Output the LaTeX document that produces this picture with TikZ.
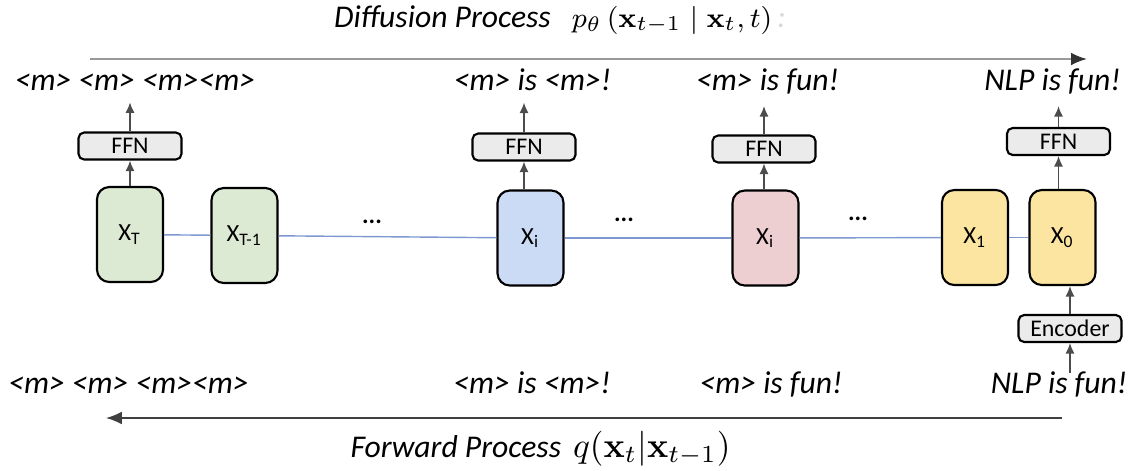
\documentclass[tikz,border=0pt]{standalone}
\usepackage{amsmath}
\usepackage[no-math]{fontspec}
\setmainfont{Carlito}
\usepackage{xcolor}
\usetikzlibrary{arrows.meta}

\definecolor{boxgreen}{RGB}{221,234,211}
\definecolor{boxblue}{RGB}{204,219,245}
\definecolor{boxpink}{RGB}{237,206,209}
\definecolor{boxyellow}{RGB}{251,229,161}
\definecolor{ffngray}{RGB}{235,235,235}
\definecolor{linkblue}{RGB}{125,152,208}

\tikzset{
  xbox/.style={draw, semithick, rounded corners=3.5pt, minimum width=0.66cm,
    minimum height=0.95cm, inner sep=0pt, font=\fontsize{7}{8}\selectfont},
  ffnbox/.style={draw, semithick, rounded corners=1.6pt, fill=ffngray,
    minimum width=1.03cm, minimum height=0.27cm, inner sep=0pt,
    font=\fontsize{6.8}{7}\selectfont},
  sentence/.style={anchor=base, font=\fontsize{9}{11}\selectfont\itshape},
  gap/.style={font=\fontsize{7}{8}\selectfont\bfseries},
  flow/.style={-{Latex[length=3pt,width=2.6pt]}, thin, black!70},
  link/.style={thin, linkblue},
}

\begin{document}
\begin{tikzpicture}[x=1cm, y=-1cm]
        \useasboundingbox (0,0) rectangle (11.44,4.70);
        % chain of states
        \node[xbox, fill=boxgreen] (T) at (1.30,2.345) {X\textsubscript{T}};
        \node[xbox, fill=boxgreen] (Tm) at (2.445,2.355) {X\textsubscript{T-1}};
        \node[xbox, fill=boxblue] (Ib) at (5.305,2.38) {X\textsubscript{i}};
        \node[xbox, fill=boxpink] (Ip) at (7.655,2.38) {X\textsubscript{i}};
        \node[xbox, fill=boxyellow] (One) at (9.75,2.375) {X\textsubscript{1}};
        \node[xbox, fill=boxyellow] (Zero) at (10.625,2.375) {X\textsubscript{0}};
        \node[gap] (GA) at (3.72,2.22) {...};
        \node[gap] (GB) at (6.24,2.20) {...};
        \node[gap] (GC) at (8.58,2.19) {...};
        \draw[link] (T) -- (Tm);
        \draw[link] (Tm) -- (Ib);
        \draw[link] (Ib) -- (Ip);
        \draw[link] (Ip) -- (One);
        \draw[link] (One) -- (Zero);
        % FFN heads and encoder
        \node[ffnbox] (FA) at (1.30,1.46) {FFN};
        \node[ffnbox] (FB) at (5.24,1.47) {FFN};
        \node[ffnbox] (FC) at (7.64,1.49) {FFN};
        \node[ffnbox] (FD) at (10.585,1.415) {FFN};
        \node[ffnbox] (E) at (10.70,3.285) {Encoder};
        % sentences
        \node[sentence] (LA) at (1.35,0.90) {<m> <m> <m><m>};
        \node[sentence] (LB) at (5.325,0.90) {<m> is <m>!};
        \node[sentence] (LC) at (7.675,0.90) {<m> is fun!};
        \node[sentence] (LD) at (10.525,0.90) {NLP is fun!};
        \node[sentence] (MA) at (1.285,3.93) {<m> <m> <m><m>};
        \node[sentence] (MB) at (5.32,3.93) {<m> is <m>!};
        \node[sentence] (MC) at (7.71,3.93) {<m> is fun!};
        \node[sentence] (MD) at (10.59,3.93) {NLP is fun!};
        \draw[flow] (T) -- (FA);
        \draw[flow] (FB.south |- Ib.north) -- (FB.south);
        \draw[flow] (FC.south |- Ip.north) -- (FC.south);
        \draw[flow] (FD.south |- Zero.north) -- (FD.south);
        \draw[flow] (FA.north) -- (FA.north |- LA.south);
        \draw[flow] (FB.north) -- (FB.north |- LB.south);
        \draw[flow] (FC.north) -- (FC.north |- LC.south);
        \draw[flow] (FD.north) -- (FD.north |- LD.south);
        \draw[flow] (E.north) -- (E.north |- Zero.south);
        \draw[flow, shorten <=-4pt] (E.south |- MD.north) -- (E.south);
        % the two processes
        \coordinate (DS) at (0.90,0.59);
        \coordinate (DE) at (10.87,0.59);
        \coordinate (QS) at (10.62,4.18);
        \coordinate (QE) at (1.06,4.18);
        \draw[-{Latex[length=4.5pt,width=3.6pt,color=black!80]}, semithick, black!40] (DS) -- (DE);
        \draw[-{Latex[length=4.5pt,width=3.6pt]}, thin, black!75] (QS) -- (QE);
        \node[sentence] (DP) at (5.60,0.27) {Diffusion Process\hspace{6pt}{\fontsize{8.4}{10}\selectfont$p_\theta\,(\mathbf{x}_{t-1}\mid\mathbf{x}_t,t)$}\hspace{1.5pt}{\color{black!15}:}};
        \node[sentence] (FP) at (5.405,4.57) {Forward Process\hspace{3.4pt}{\fontsize{10}{12}\selectfont$q(\mathbf{x}_t|\mathbf{x}_{t-1})$}};
      \end{tikzpicture}
\end{document}
